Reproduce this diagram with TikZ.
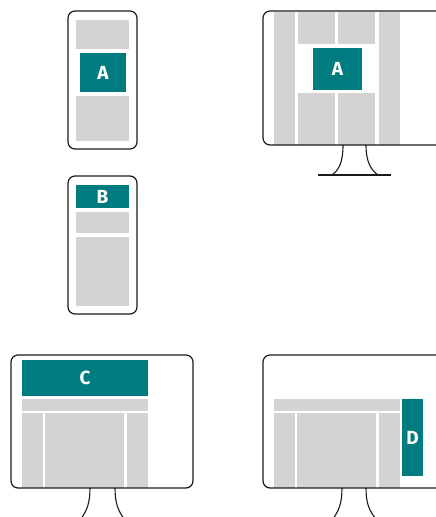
\documentclass[tikz,border=0pt]{standalone}
\usepackage{fontspec}
\setmainfont{Fira Sans}
\definecolor{BlockTeal}{HTML}{007B80}
\definecolor{BlockGrey}{HTML}{D3D3D3}
\definecolor{FrameInk}{HTML}{1A1A1A}

\begin{document}
\begin{tikzpicture}[x=1pt,y=-1pt,
  frame/.style={draw=FrameInk,line width=1.2pt,rounded corners=7pt},
  cell/.style={fill=BlockGrey},
  stand/.style={draw=FrameInk,line width=1.1pt},
  slot/.style={fill=BlockTeal,text=white,inner sep=0pt,font=\fontsize{19}{22}\selectfont\bfseries}]
  \clip (0,0) rectangle (436,517);
  % phone, layout A
  \fill[cell] (76,20) rectangle (129,49);
  \fill[cell] (76,96) rectangle (129,141);
  \node[slot,minimum width=46pt,minimum height=39pt] (phoneA) at (103,72.5) {A};
  \draw[frame] (68,11) rectangle (137,149);
  % phone, layout B
  \node[slot,minimum width=53pt,minimum height=23pt] (phoneB) at (102.5,196.5) {B};
  \fill[cell] (76,212) rectangle (129,233);
  \fill[cell] (76,237) rectangle (129,306);
  \draw[frame] (68,176) rectangle (137,314);
  % desktop, layout A
  \foreach \xa/\xb in {274/295,379/400}
    \fill[cell] (\xa,12) rectangle (\xb,145);
  \foreach \xa/\xb in {298/335,338/375} {
    \fill[cell] (\xa,12) rectangle (\xb,44);
    \fill[cell] (\xa,93) rectangle (\xb,145);
  }
  \node[slot,minimum width=49pt,minimum height=42pt] (deskA) at (337.5,68.5) {A};
  \draw[frame] (263,11) rectangle (446,145);
  \draw[stand] (343,145) .. controls (343,162) and (339,170) .. (332,175);
  \draw[stand] (366,145) .. controls (366,162) and (371,170) .. (378,175);
  \draw[stand] (318,175) -- (391,175);
  % desktop, layout C
  \node[slot,minimum width=126pt,minimum height=36pt] (deskC) at (85,378) {C};
  \fill[cell] (22,399) rectangle (148,411);
  \foreach \xa/\xb in {22/43,45/124,127/148}
    \fill[cell] (\xa,413) rectangle (\xb,488);
  \draw[frame] (11,355) rectangle (193,488);
  \draw[stand] (90,488) .. controls (90,503) and (87,511) .. (80,520);
  \draw[stand] (115,488) .. controls (115,503) and (118,511) .. (125,520);
  % desktop, layout D
  \fill[cell] (274,399) rectangle (400,411);
  \foreach \xa/\xb in {274/295,297/376,379/400}
    \fill[cell] (\xa,413) rectangle (\xb,488);
  \node[slot,minimum width=21pt,minimum height=77pt] (deskD) at (412.5,437.5) {D};
  \draw[frame] (263,355) rectangle (446,488);
  \draw[stand] (342,488) .. controls (342,503) and (339,511) .. (332,520);
  \draw[stand] (366,488) .. controls (366,503) and (369,511) .. (377,520);
\end{tikzpicture}
\end{document}
